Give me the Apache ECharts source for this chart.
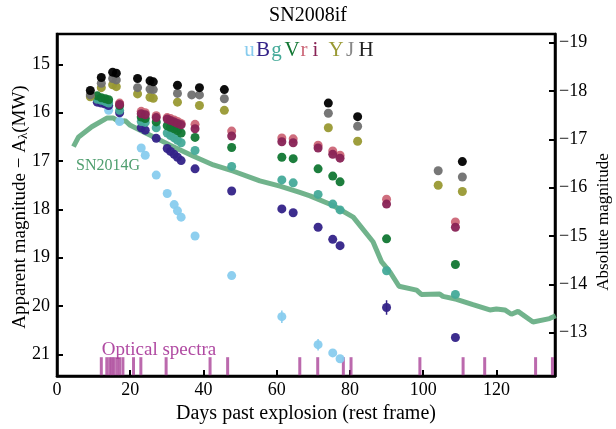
<!DOCTYPE html>
<html>
<head>
<meta charset="utf-8">
<script src="https://cdn.jsdelivr.net/npm/echarts@6/dist/echarts.min.js"></script>
<style>html,body{margin:0;padding:0;background:#fff}#c{width:616px;height:429px}</style>
</head>
<body>
<div id="c"></div>
<script>
// ---------- DATA ----------
const optDays = [11.0, 12.1, 13.2, 14.1, 17.1, 23.0, 24.1, 27.1, 30.1, 31.0, 32.0, 32.9, 33.9, 37.7, 47.7, 61.4, 64.5, 71.3, 75.3, 77.3, 90.0, 108.8];
const uMag = [null, null, null, 15.95, 16.18, 16.73, 16.88, 17.29, 17.67, null, 17.90, 18.03, 18.16, 18.55, 19.37, 20.22, null, 20.80, 20.97, 21.09, null, null];
const BMag = [15.78, 15.80, 15.82, 15.85, 16.00, 16.31, 16.36, 16.53, 16.74, 16.80, 16.86, 16.92, 16.99, 17.16, 17.62, 17.99, 18.07, 18.37, 18.62, 18.75, 20.03, 20.65];
const gMag = [15.72, 15.74, 15.77, 15.80, 15.95, 16.18, 16.20, 16.31, 16.42, 16.47, 16.52, 16.57, 16.62, 16.78, 17.11, 17.39, 17.45, 17.69, 17.89, 18.01, 19.27, 19.76];
const VMag = [15.65, 15.69, 15.71, 15.73, 15.85, 16.09, 16.12, 16.19, 16.27, 16.30, 16.33, 16.37, 16.42, 16.51, 16.72, 16.92, 16.95, 17.16, 17.31, 17.43, 18.61, 19.14];
const rMag = [null, null, null, null, 15.80, 15.97, 16.00, 16.06, 16.10, 16.12, 16.15, 16.18, 16.22, 16.24, 16.38, 16.52, 16.54, 16.67, 16.79, 16.88, 17.79, 18.26];
const iMag = [null, null, null, null, 15.83, 16.02, 16.04, 16.10, 16.13, 16.16, 16.19, 16.22, 16.25, 16.33, 16.48, 16.60, 16.62, 16.73, 16.86, 16.94, 17.89, 18.37];

const nirDays = [9.1, 12.1, 15.2, 16.2, 22.0, 25.4, 26.3, 32.9, 36.8, 38.9, 45.7, 74.1, 82.1, 104.1, 110.7];
const YMag = [15.67, 15.48, 15.42, 15.46, 15.61, 15.68, 15.70, 15.78, null, 15.85, 15.95, 16.31, 16.59, 17.50, 17.63];
const JMag = [15.63, 15.39, 15.29, 15.32, 15.48, 15.51, 15.52, 15.60, 15.63, 15.63, 15.71, 16.01, 16.28, 17.20, 17.33];
const HMag = [15.54, 15.27, 15.16, 15.18, 15.29, 15.34, 15.36, 15.43, null, 15.48, 15.52, 15.80, 16.08, null, 17.01];

// error bars: [day, low, high]
const uErr = [[61.4, 20.09, 20.35], [71.3, 20.68, 20.92]];
const BErr = [[90.0, 19.88, 20.18]];

const sn14Days = [4.5, 5.9, 9.5, 13.6, 15.4, 17.1, 18.6, 20.0, 24.5, 30.9, 37.3, 42.7, 48.2, 55.4, 60.9, 66.3, 69.1, 75.4, 80.9, 86.3, 88.6, 90.9, 93.4, 98.2, 99.5, 104.5, 105.4, 109.1, 113.6, 118.2, 120.0, 122.3, 124.1, 125.9, 130.0, 134.5, 136.2];
const sn14Mag = [16.70, 16.50, 16.29, 16.11, 16.11, 16.20, 16.16, 16.26, 16.43, 16.67, 16.90, 17.08, 17.21, 17.41, 17.52, 17.65, 17.72, 17.92, 18.16, 18.67, 19.08, 19.29, 19.59, 19.67, 19.76, 19.75, 19.80, 19.86, 19.97, 20.08, 20.06, 20.08, 20.17, 20.11, 20.33, 20.26, 20.20];

const specDays = [12.1, 13.6, 14.4, 15.0, 15.6, 16.4, 17.1, 18.0, 20.9, 22.9, 29.8, 41.8, 46.6, 66.3, 71.2, 78.2, 80.3, 99.1, 110.9, 116.8, 130.7, 135.3];
const specMark = 21.245;

const leftTicks = [15, 16, 17, 18, 19, 20, 21];
const rightTicks = [-19, -18, -17, -16, -15, -14, -13];
const distMod = 33.55;

const bandNames = ['u', 'B', 'g', 'V', 'r', 'i', 'Y', 'J', 'H'];
const titleText = 'SN2008if';
const compLabel = 'SN2014G';
const specLabel = 'Optical spectra';

// ---------- STYLE ----------
const FONT = '"Liberation Serif", "DejaVu Serif", serif';
const colors = {u:'#88CCEE', B:'#332288', g:'#44AA99', V:'#117733', r:'#CC6677', i:'#882255', Y:'#999933', J:'#707070', H:'#000000'};
const legendColors = {u:'#88CCEE', B:'#332288', g:'#44AA99', V:'#117733', r:'#CC6677', i:'#882255', Y:'#999933', J:'#888888', H:'#222222'};
const legendX = {u:249.5, B:263, g:276.5, V:292, r:304, i:315.5, Y:336, J:350, H:366};

const yMin = 14.37, yMax = 21.45;

function pairs(xs, ys){ return xs.map((x,k)=> ys[k]==null ? null : [x, ys[k]]).filter(p=>p); }

function scatter(name, xs, ys){
  return {type:'scatter', name, data: pairs(xs, ys), symbol:'circle', symbolSize: 9,
          itemStyle:{color: colors[name], opacity: 0.95}, z: 5, silent:true};
}
function errSeries(data, col){
  return {type:'custom', data, z: 4, silent:true,
    renderItem: function(params, api){
      const p1 = api.coord([api.value(0), api.value(1)]);
      const p2 = api.coord([api.value(0), api.value(2)]);
      return {type:'line', shape:{x1:p1[0], y1:p1[1], x2:p2[0], y2:p2[1]}, style:{stroke: col, lineWidth: 1.5}};
    }};
}

const chart = echarts.init(document.getElementById('c'), null, {renderer:'canvas'});

const legendTexts = bandNames.map(b => ({
  type:'text', x: legendX[b], y: 50,
  style:{text: b, fill: legendColors[b], font: '21px ' + FONT, textAlign:'center', textVerticalAlign:'middle'}
}));

const option = {
  animation: false,
  backgroundColor: '#fff',
  title: {text: titleText, left: 'center', top: 1, textStyle:{fontFamily: FONT, fontSize: 20, fontWeight:'normal', color:'#000'}},
  grid: {left: 57, right: 61, top: 34, bottom: 48, show: true, borderColor:'#000', borderWidth: 2.5, backgroundColor:'transparent'},
  xAxis: {type:'value', min: 0, max: 136, interval: 20,
    axisLine:{show:true, onZero:false, lineStyle:{color:'#000', width:2.5}},
    axisTick:{show:true, inside:true, length:6, lineStyle:{color:'#000', width:2}},
    axisLabel:{fontFamily: FONT, fontSize: 18, color:'#000', margin: 5, showMaxLabel:false},
    splitLine:{show:false},
    name: 'Days past explosion (rest frame)', nameLocation:'middle', nameGap: 23,
    nameTextStyle:{fontFamily: FONT, fontSize: 20, color:'#000'}},
  yAxis: [
    {type:'value', min: yMin, max: yMax, inverse: true, position:'left',
     axisLine:{show:true, onZero:false, lineStyle:{color:'#000', width:2.5}},
     axisTick:{show:true, inside:true, length:6, customValues: leftTicks, lineStyle:{color:'#000', width:2}},
     axisLabel:{fontFamily: FONT, fontSize: 18, color:'#000', margin: 7, customValues: leftTicks},
     splitLine:{show:false}},
    {type:'value', min: yMin - distMod, max: yMax - distMod, inverse: true, position:'right',
     axisLine:{show:true, onZero:false, lineStyle:{color:'#000', width:2.5}},
     axisTick:{show:true, inside:true, length:6, customValues: rightTicks, lineStyle:{color:'#000', width:2}},
     axisLabel:{fontFamily: FONT, fontSize: 18, color:'#000', margin: 4, customValues: rightTicks,
       formatter: v => String(v).replace('-', '\u2212')},
     splitLine:{show:false}}
  ],
  graphic: [
    {type:'text', x: 20, y: 207, rotation: Math.PI/2,
     style:{text:'{n|Apparent magnitude \u2212 A}{s|\u03bb}{n|(MW)}', textAlign:'center', textVerticalAlign:'middle',
       rich:{n:{fontFamily: FONT, fontSize: 19, fill:'#000'}, s:{fontFamily: FONT, fontSize: 13, fill:'#000', padding:[8,0,0,0]}}}},
    {type:'text', x: 604, y: 222, rotation: Math.PI/2,
     style:{text:'Absolute magnitude', fill:'#000', font:'17px ' + FONT, textAlign:'center', textVerticalAlign:'middle'}},
    {type:'text', x: 108, y: 166,
     style:{text: compLabel, fill:'#4E9E6E', font:'16px ' + FONT, textAlign:'center', textVerticalAlign:'middle'}},
    {type:'text', x: 159, y: 350,
     style:{text: specLabel, fill:'#B04AA2', font:'19px ' + FONT, textAlign:'center', textVerticalAlign:'middle'}}
  ].concat(legendTexts),
  series: [
    {type:'scatter', data: specDays.map(d => [d, specMark]), symbol:'rect', symbolSize:[3, 18],
     itemStyle:{color:'#AA4499'}, z: 2, silent:true, clip:false},
    {type:'line', data: pairs(sn14Days, sn14Mag), showSymbol:false, symbol:'none',
     lineStyle:{color:'#62AB7F', width:5, opacity:0.9}, z: 3, silent:true},
    errSeries(uErr, colors.u),
    errSeries(BErr, colors.B),
    scatter('u', optDays, uMag),
    scatter('B', optDays, BMag),
    scatter('g', optDays, gMag),
    scatter('V', optDays, VMag),
    scatter('r', optDays, rMag),
    scatter('i', optDays, iMag),
    scatter('Y', nirDays, YMag),
    scatter('J', nirDays, JMag),
    scatter('H', nirDays, HMag)
  ]
};
chart.setOption(option);
</script>
</body>
</html>
